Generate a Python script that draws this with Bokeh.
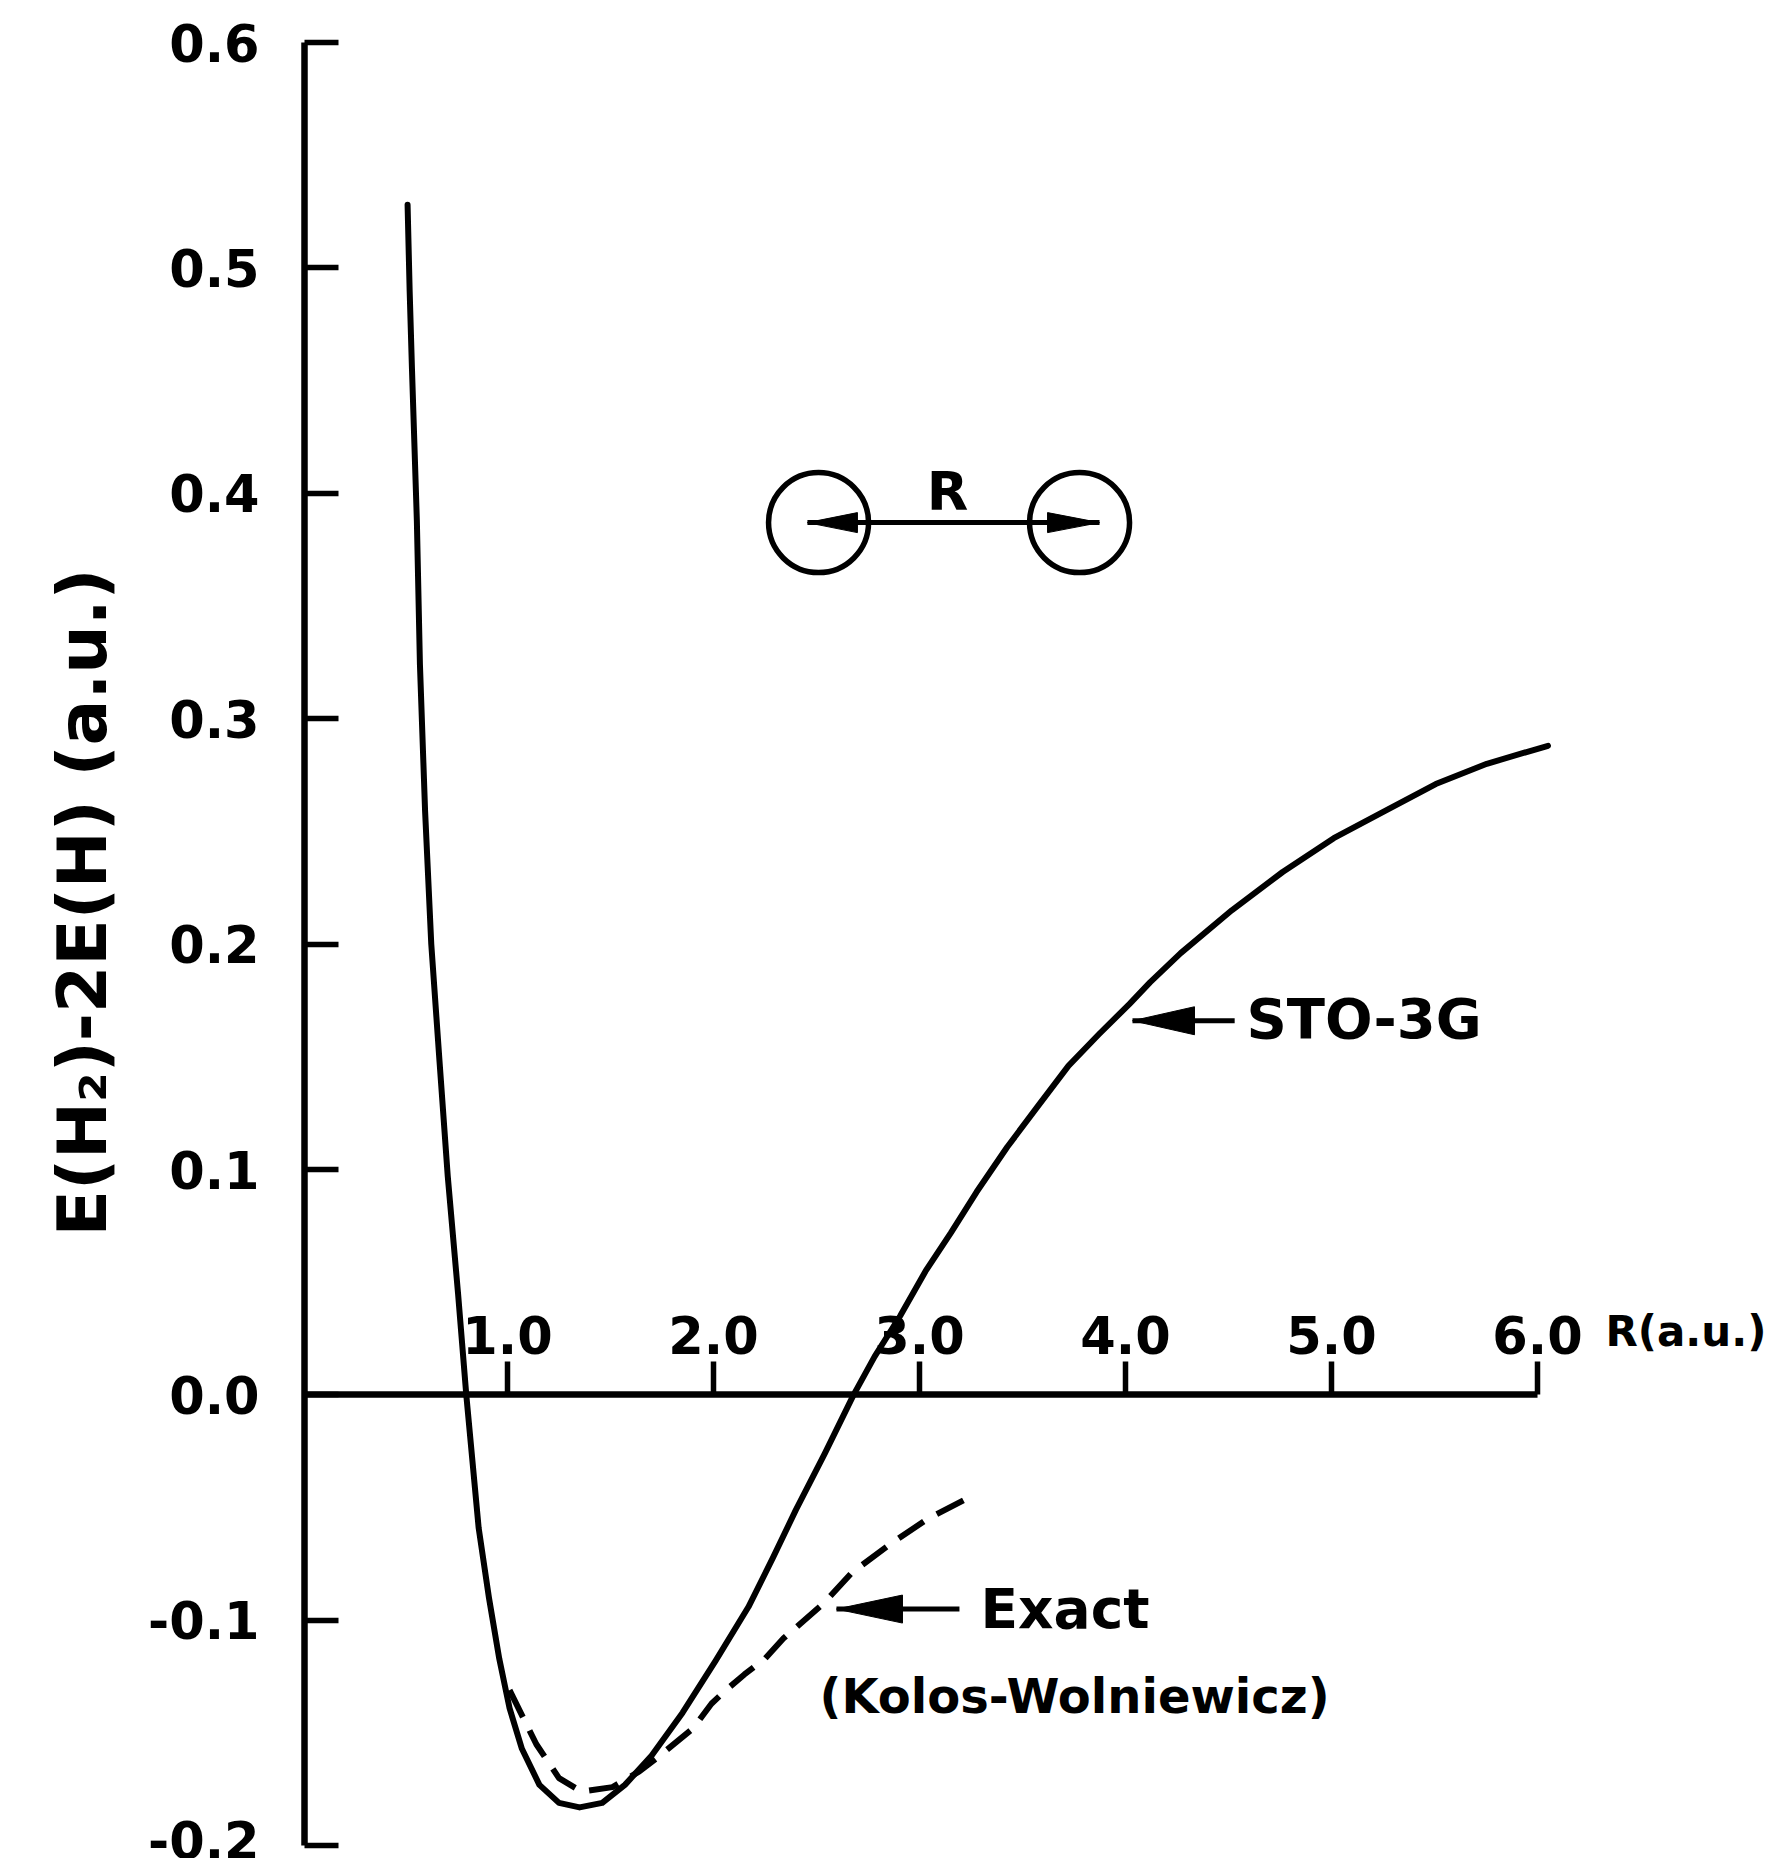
from bokeh.plotting import figure
from bokeh.models import Range1d, FixedTicker
from bokeh.core.properties import value
from bokeh.embed import file_html
from bokeh.resources import INLINE

# ---------------- data ----------------
sto_r = [0.515, 0.525, 0.536, 0.56, 0.575, 0.60, 0.63, 0.67, 0.71, 0.76, 0.80,
         0.86, 0.91, 0.96, 1.01, 1.07, 1.155, 1.25, 1.35, 1.46, 1.57, 1.70,
         1.85, 2.01, 2.17, 2.29, 2.40, 2.54, 2.68, 2.782, 2.906, 3.03, 3.153,
         3.277, 3.426, 3.574, 3.723, 3.871, 4.02, 4.119, 4.268, 4.516, 4.763,
         5.011, 5.258, 5.506, 5.754, 6.051]
sto_e = [0.528, 0.49, 0.456, 0.388, 0.324, 0.259, 0.200, 0.148, 0.097, 0.045, 0.0,
         -0.059, -0.090, -0.117, -0.139, -0.157, -0.173, -0.181, -0.183, -0.181, -0.173, -0.160,
         -0.141, -0.118, -0.094, -0.072, -0.051, -0.026, 0.0, 0.017, 0.035, 0.055, 0.072,
         0.090, 0.110, 0.128, 0.146, 0.160, 0.1735, 0.183, 0.196, 0.215, 0.232,
         0.247, 0.259, 0.271, 0.280, 0.288]

exact_r = [1.01, 1.14, 1.25, 1.36, 1.51, 1.64, 1.74, 1.90, 1.99, 2.06, 2.15,
           2.25, 2.34, 2.54, 2.67, 2.86, 3.04, 3.23]
exact_e = [-0.131, -0.155, -0.170, -0.176, -0.174, -0.167, -0.160, -0.148, -0.137, -0.131, -0.124,
           -0.117, -0.108, -0.092, -0.079, -0.066, -0.055, -0.046]

x_ticks = [1, 2, 3, 4, 5, 6]
x_tick_labels = ["1.0", "2.0", "3.0", "4.0", "5.0", "6.0"]
y_ticks = [-0.2, -0.1, 0.0, 0.1, 0.2, 0.3, 0.4, 0.5, 0.6]
y_tick_labels = ["-0.2", "-0.1", "0.0", "0.1", "0.2", "0.3", "0.4", "0.5", "0.6"]

x_title = "R(a.u.)"
y_title = "E(H\u2082)-2E(H) (a.u.)"

# annotations: labels and arrows
sto_label = "STO-3G"
sto_label_pos = (4.587, 0.167)
sto_arrow_tail = (4.53, 0.166)
sto_arrow_tip = (4.034, 0.166)

exact_label = "Exact"
exact_label_pos = (3.296, -0.095)
kw_label = "(Kolos-Wolniewicz)"
kw_label_pos = (2.515, -0.1335)
exact_arrow_tail = (3.194, -0.095)
exact_arrow_tip = (2.597, -0.095)

mol_atoms_r = [2.51, 3.777]
mol_atoms_e = [0.387, 0.387]
mol_arrow = (2.456, 3.874, 0.387)
mol_label = "R"
mol_label_pos = (3.136, 0.401)

x_title_pos = (6.33, 0.028)

# ---------------- figure ----------------
W, H = 1771, 1858
BL, BR, BT, BB = 304, 0, 32, 0
X0, X1 = 0.0146, 7.136
Y0, Y1 = -0.20567, 0.60444
FONT = "DejaVu Sans"

p = figure(width=W, height=H, x_range=Range1d(X0, X1), y_range=Range1d(Y0, Y1),
           x_axis_location="above", y_axis_location="left",
           title=y_title, title_location="left",
           output_backend="svg", toolbar_location=None,
           min_border_left=BL, min_border_right=BR, min_border_top=BT, min_border_bottom=BB)
p.outline_line_color = None
p.xgrid.grid_line_color = None
p.ygrid.grid_line_color = None
p.background_fill_color = "white"
p.border_fill_color = "white"

# the y-axis title (E(H2)-2E(H)) sits left of the tick labels
p.title.align = "left"
p.title.offset = 622
p.title.standoff = 46
p.title.text_font = FONT
p.title.text_font_style = "bold"
p.title.text_font_size = "68px"
p.title.text_color = "black"

PX_X = (W - BL - BR) / (X1 - X0)
PX_Y = (H - BT - BB) / (Y1 - Y0)

# x axis drawn through E = 0
xa = p.xaxis[0]
xa.fixed_location = 0
xa.bounds = (X0, 6.0)
xa.ticker = FixedTicker(ticks=x_ticks)
xa.major_label_overrides = {t: s for t, s in zip(x_ticks, x_tick_labels)}
xa.axis_line_width = 6.5
xa.axis_line_color = "black"
xa.major_tick_line_width = 5.5
xa.major_tick_line_color = "black"
xa.major_tick_out = 33
xa.major_tick_in = 0
xa.minor_tick_line_color = None
xa.major_label_standoff = 8
xa.major_label_text_font = FONT
xa.major_label_text_font_style = "bold"
xa.major_label_text_font_size = "51px"
xa.major_label_text_color = "black"

ya = p.yaxis[0]
ya.bounds = (-0.2, 0.6)
ya.ticker = FixedTicker(ticks=y_ticks)
ya.major_label_overrides = {t: s for t, s in zip(y_ticks, y_tick_labels)}
ya.axis_line_width = 6.5
ya.axis_line_color = "black"
ya.major_tick_line_width = 5.5
ya.major_tick_line_color = "black"
ya.major_tick_in = 34
ya.major_tick_out = 0
ya.minor_tick_line_color = None
ya.major_label_standoff = 45
ya.major_label_text_font = FONT
ya.major_label_text_font_style = "bold"
ya.major_label_text_font_size = "51px"
ya.major_label_text_color = "black"

# curves
p.line(sto_r, sto_e, line_width=6, line_color="black", line_join="round", line_cap="round")
p.line(exact_r, exact_e, line_width=6, line_color="black", line_dash="30 15")


def head(tip, direction, length=50, half=9):
    tx, ty = tip
    bx = tx - direction * length / PX_X
    return [tx, bx, bx], [ty, ty + half / PX_Y, ty - half / PX_Y]


# arrows
seg_x0 = [sto_arrow_tail[0], exact_arrow_tail[0], mol_arrow[0]]
seg_x1 = [sto_arrow_tip[0], exact_arrow_tip[0], mol_arrow[1]]
seg_y0 = [sto_arrow_tail[1], exact_arrow_tail[1], mol_arrow[2]]
seg_y1 = [sto_arrow_tip[1], exact_arrow_tip[1], mol_arrow[2]]
p.segment(seg_x0, seg_y0, seg_x1, seg_y1, line_width=5, line_color="black")

heads = [head(sto_arrow_tip, -1, 62, 14), head(exact_arrow_tip, -1, 66, 14),
         head((mol_arrow[0], mol_arrow[2]), -1, 50, 10), head((mol_arrow[1], mol_arrow[2]), 1, 52, 10)]
p.patches([h[0] for h in heads], [h[1] for h in heads], fill_color="black", line_color="black", line_width=1)

# molecule atoms
p.scatter(mol_atoms_r, mol_atoms_e, marker="circle", size=100, fill_color=None,
          line_color="black", line_width=5.5)

# texts
p.text([sto_label_pos[0]], [sto_label_pos[1]], text=[sto_label], text_font=value(FONT),
       text_font_style="bold", text_font_size="56px", text_baseline="middle", text_align="left")
p.text([exact_label_pos[0]], [exact_label_pos[1]], text=[exact_label], text_font=value(FONT),
       text_font_style="bold", text_font_size="55px", text_baseline="middle", text_align="left")
p.text([kw_label_pos[0]], [kw_label_pos[1]], text=[kw_label], text_font=value(FONT),
       text_font_style="bold", text_font_size="48px", text_baseline="middle", text_align="left")
p.text([mol_label_pos[0]], [mol_label_pos[1]], text=[mol_label], text_font=value(FONT),
       text_font_style="bold", text_font_size="54px", text_baseline="middle", text_align="center")
p.text([x_title_pos[0]], [x_title_pos[1]], text=[x_title], text_font=value(FONT),
       text_font_style="bold", text_font_size="42px", text_baseline="middle", text_align="left")

open("out.html", "w").write(file_html(p, INLINE))
